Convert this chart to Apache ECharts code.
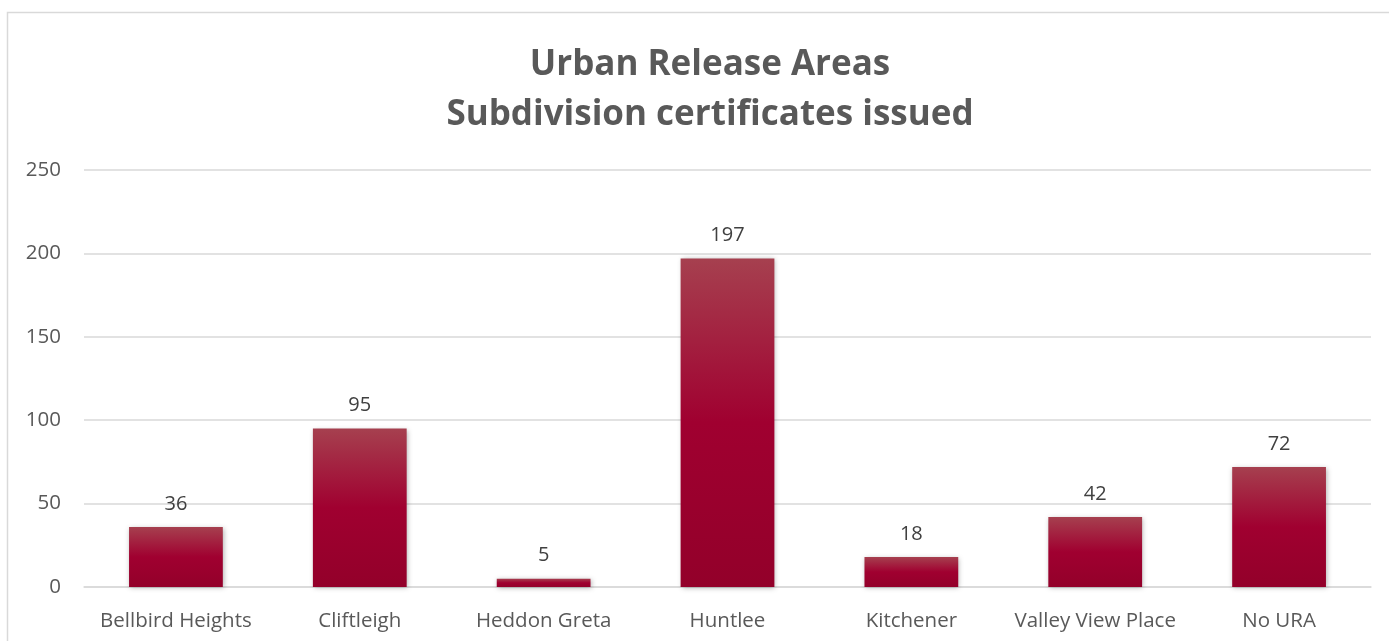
<!DOCTYPE html>
<html>
<head>
<meta charset="utf-8">
<title>Urban Release Areas</title>
<script src="https://cdn.jsdelivr.net/npm/echarts@6/dist/echarts.min.js"></script>
<style>
	html,body{margin:0;padding:0;background:#fff;}
	#main{width:1389px;height:641px;}
</style>
</head>
<body>
<div id="main"></div>
<script>
var categories = ["Bellbird Heights","Cliftleigh","Heddon Greta","Huntlee","Kitchener","Valley View Place","No URA"];
var certificates = [36, 95, 5, 197, 18, 42, 72];
var titleLines = ["Urban Release Areas", "Subdivision certificates issued"];

var myChart = echarts.init(document.getElementById('main'));
var font = "'Open Sans', 'Liberation Sans', sans-serif";

myChart.setOption({
	animation: false,
	title: {
		text: titleLines.join('\n'),
		left: 705,
		top: 35,
		textAlign: 'center',
		textStyle: {
			fontFamily: font,
			fontSize: 35,
			fontWeight: 'bold',
			color: '#595959',
			lineHeight: 50
		}
	},
	graphic: [{
		type: 'rect',
		shape: {x: 7.5, y: 12.5, width: 1500, height: 800},
		style: {fill: 'none', stroke: '#d9d9d9', lineWidth: 1.5},
		silent: true
	}],
	grid: {
		left: 84,
		right: 18,
		top: 170,
		bottom: 54
	},
	xAxis: {
		type: 'category',
		data: categories,
		axisLine: {lineStyle: {color: '#d9d9d9', width: 1.5}},
		axisTick: {show: false},
		axisLabel: {
			interval: 0,
			hideOverlap: false,
			fontFamily: font,
			fontSize: 20.5,
			color: '#595959',
			margin: 24
		}
	},
	yAxis: {
		type: 'value',
		min: 0,
		max: 250,
		interval: 50,
		axisLine: {show: false},
		axisTick: {show: false},
		axisLabel: {
			fontFamily: font,
			fontSize: 20.5,
			color: '#595959',
			margin: 23
		},
		splitLine: {lineStyle: {color: '#d9d9d9', width: 1.5}}
	},
	series: [{
		type: 'bar',
		data: certificates,
		barWidth: '51%',
		itemStyle: {
			color: new echarts.graphic.LinearGradient(0, 0, 0, 1, [
				{offset: 0, color: '#a6404f'},
				{offset: 0.5, color: '#a00030'},
				{offset: 1, color: '#93002a'}
			]),
			shadowBlur: 5,
			shadowColor: 'rgba(0,0,0,0.3)',
			shadowOffsetX: 1,
			shadowOffsetY: 1
		},
		label: {
			show: true,
			position: 'top',
			distance: 13,
			fontFamily: font,
			fontSize: 20,
			color: '#404040'
		}
	}]
});

window.onresize = function(){
	myChart.resize();
}
</script>
</body>
</html>
